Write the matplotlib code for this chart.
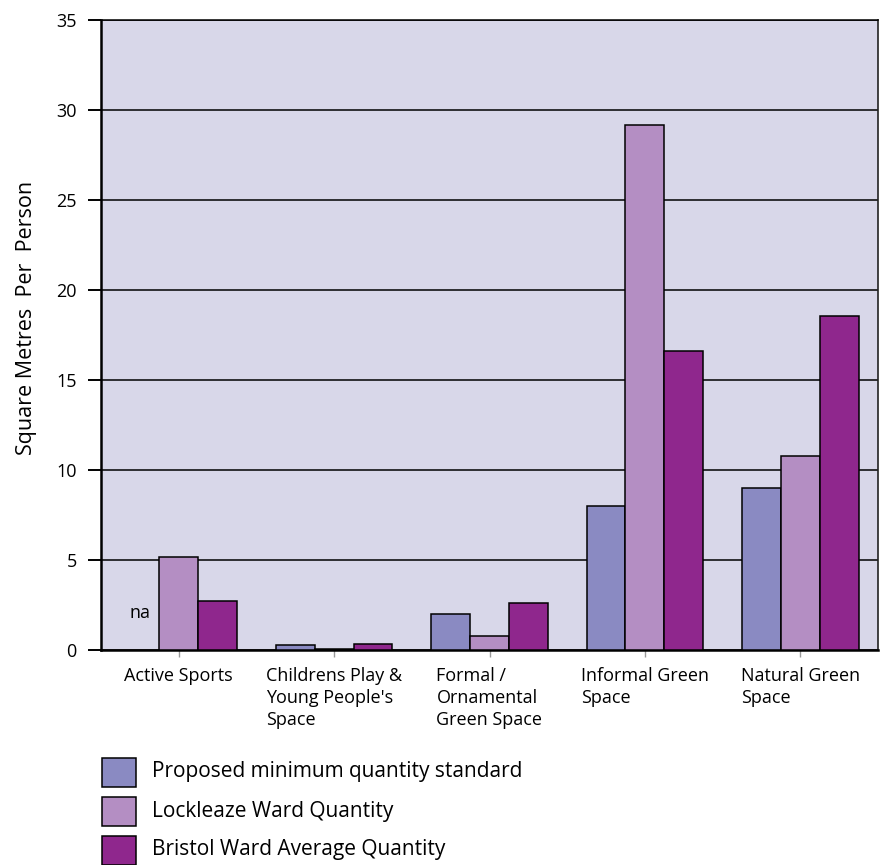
import matplotlib
matplotlib.use("Agg")
import matplotlib.pyplot as plt
from matplotlib.patches import Rectangle
import numpy as np

plt.rcParams['font.family'] = ['Open Sans', 'DejaVu Sans']

categories = ["Active Sports", "Childrens Play &\nYoung People's\nSpace",
              "Formal /\nOrnamental\nGreen Space", "Informal Green\nSpace",
              "Natural Green\nSpace"]
series_names = ["Proposed minimum quantity standard", "Lockleaze Ward Quantity",
                "Bristol Ward Average Quantity"]
proposed = [np.nan, 0.3, 2.0, 8.0, 9.0]
lockleaze = [5.15, 0.05, 0.78, 29.15, 10.8]
bristol = [2.75, 0.35, 2.6, 16.6, 18.55]
na_value_pos = 2.05  # vertical position of the 'na' note (data units)
y_ticks = [0, 5, 10, 15, 20, 25, 30, 35]

colors = ["#8A8AC2", "#B48EC3", "#8F278D"]
bg = "#D8D7E9"

fig = plt.figure(figsize=(8.84, 8.65), dpi=100)
ax = fig.add_axes([101/884, 1-650/865, (878-101)/884, (650-20)/865])
ax.set_facecolor(bg)

x = np.arange(len(categories))
w = 0.25
for i, vals in enumerate([proposed, lockleaze, bristol]):
    ax.bar(x + (i-1)*w, vals, width=w, color=colors[i], edgecolor="black",
           linewidth=1.1, zorder=3)

ax.text(x[0] - w, na_value_pos, "na", ha="center", va="center", fontsize=13, zorder=4)

ax.set_xlim(-0.5, len(categories)-0.5)
ax.set_ylim(0, 35)
ax.set_yticks(y_ticks)
ax.set_yticklabels([str(t) for t in y_ticks], fontsize=13)
ax.yaxis.grid(True, color="black", linewidth=1.1, zorder=1)
ax.set_axisbelow(True)

ax.set_xticks(x)
ax.set_xticklabels(categories, fontsize=13, multialignment="left", linespacing=1.3)
ax.tick_params(axis="x", length=5, width=1, color="#999999", pad=7)
ax.tick_params(axis="y", length=9.5, width=1.4, color="black", pad=8)

for s in ["left", "bottom"]:
    ax.spines[s].set_linewidth(1.8)
    ax.spines[s].set_color("black")
ax.spines["right"].set_linewidth(1.2)
ax.spines["right"].set_color("#222222")
ax.spines["top"].set_linewidth(1.1)

ax.set_ylabel("Square Metres  Per  Person", fontsize=15.5)
ax.yaxis.set_label_coords(-0.083, 0.527)

# Legend
for i, (name, c) in enumerate(zip(series_names, colors)):
    yc = 772 + i*39
    rect = Rectangle((102/884, 1-(yc+14.5)/865), 34/884, 29/865, transform=fig.transFigure,
                     facecolor=c, edgecolor="black", linewidth=1.1)
    fig.add_artist(rect)
    fig.text(152/884, 1-yc/865, name, fontsize=15, va="center", ha="left")

fig.savefig("out.png", dpi=100)
